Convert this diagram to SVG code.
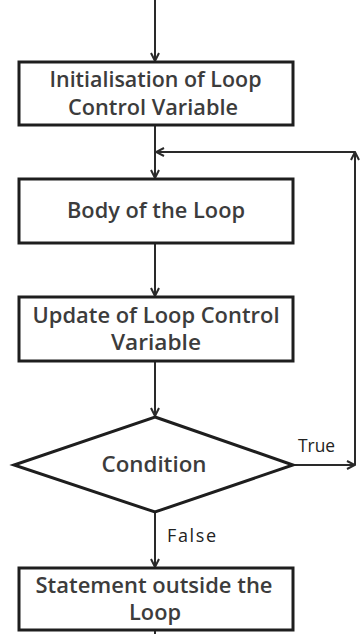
<svg xmlns="http://www.w3.org/2000/svg" width="363" height="634" viewBox="0 0 363 634">
<style>
.box{fill:#fff;stroke:#1e1e1e;stroke-width:3}
.t{font-family:"Open Sans","Liberation Sans",sans-serif;font-weight:600;font-size:21px;fill:#3c3c3c;text-anchor:middle}
.lbl{font-family:"Open Sans","Liberation Sans",sans-serif;font-size:18px;fill:#222}
.c{stroke:#2a2a2a;stroke-width:2;fill:none}
</style>
<defs>
<marker id="ah" viewBox="0 0 10 10" refX="9" refY="5" markerWidth="10" markerHeight="10" markerUnits="userSpaceOnUse" orient="auto">
<path d="M1,1 L9,5 L1,9" fill="none" stroke="#2a2a2a" stroke-width="2"/>
</marker>
</defs>
<rect width="363" height="634" fill="#fff"/>
<g id="connectors">
<line class="c" x1="155" y1="0" x2="155" y2="61" marker-end="url(#ah)"/>
<line class="c" x1="155" y1="125" x2="155" y2="178" marker-end="url(#ah)"/>
<line class="c" x1="155" y1="243" x2="155" y2="296" marker-end="url(#ah)"/>
<line class="c" x1="155" y1="361" x2="155" y2="416" marker-end="url(#ah)"/>
<line class="c" x1="155" y1="512" x2="155" y2="567" marker-end="url(#ah)"/>
<line class="c" x1="155" y1="630" x2="155" y2="634"/>
<line class="c" x1="293" y1="465" x2="355" y2="465" marker-end="url(#ah)"/>
<line class="c" x1="355" y1="465" x2="355" y2="152" marker-end="url(#ah)"/>
<line class="c" x1="355" y1="152" x2="156" y2="152" marker-end="url(#ah)"/>
<text class="lbl" x="298" y="452" textLength="37" lengthAdjust="spacingAndGlyphs">True</text>
<text class="lbl" x="167" y="542" textLength="49" lengthAdjust="spacing">False</text>
</g>
<g id="init">
<rect class="box" x="19" y="62" width="274" height="63"/>
<text class="t" x="155.5" y="87" textLength="212" lengthAdjust="spacingAndGlyphs">Initialisation of Loop</text>
<text class="t" x="153" y="115" textLength="170" lengthAdjust="spacingAndGlyphs">Control Variable</text>
</g>
<g id="body">
<rect class="box" x="19" y="179" width="274" height="64"/>
<text class="t" x="156" y="218" textLength="178" lengthAdjust="spacingAndGlyphs">Body of the Loop</text>
</g>
<g id="update">
<rect class="box" x="19" y="297" width="274" height="64"/>
<text class="t" x="156" y="323" textLength="247" lengthAdjust="spacingAndGlyphs">Update of Loop Control</text>
<text class="t" x="156" y="350" textLength="90" lengthAdjust="spacingAndGlyphs">Variable</text>
</g>
<g id="condition">
<polygon class="box" points="155,417 293,465 155,512 14,465"/>
<text class="t" x="154" y="472" textLength="105" lengthAdjust="spacingAndGlyphs">Condition</text>
</g>
<g id="statement">
<rect class="box" x="19" y="568" width="274" height="62"/>
<text class="t" x="154" y="593" textLength="237" lengthAdjust="spacingAndGlyphs">Statement outside the</text>
<text class="t" x="155" y="620" textLength="52" lengthAdjust="spacingAndGlyphs">Loop</text>
</g>
</svg>
